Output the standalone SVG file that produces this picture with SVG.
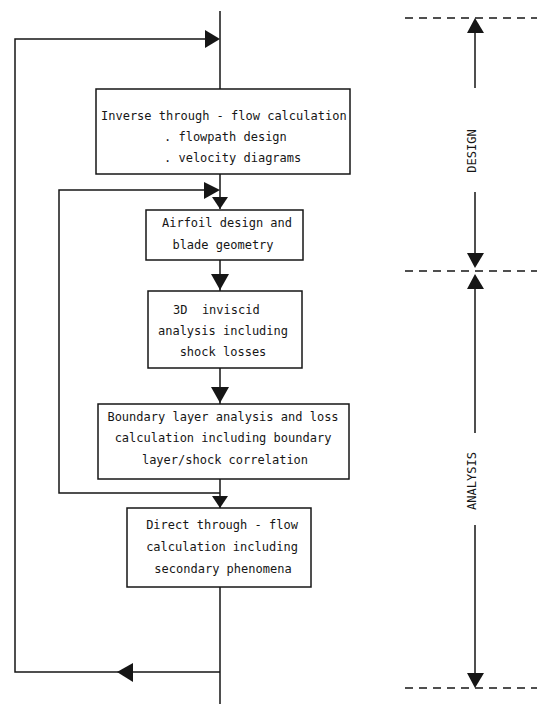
<svg xmlns="http://www.w3.org/2000/svg" width="537" height="704" viewBox="0 0 537 704">
<style>
  .ln { stroke: #161616; stroke-width: 1.5; fill: none; }
  .dash { stroke: #161616; stroke-width: 1.4; fill: none; stroke-dasharray: 8 6; }
  .box { stroke: #161616; stroke-width: 1.5; fill: #ffffff; }
  .ah { fill: #161616; stroke: none; }
  .t { font-family: "DejaVu Sans Mono", "Liberation Mono", monospace; font-size: 12px; fill: #161616; }
  .c { text-anchor: middle; }
</style>
<rect width="537" height="704" fill="#ffffff"/>

<g id="connectors">
  <!-- main flow line -->
  <path class="ln" d="M220,11 V89 M220,174 V209 M220,259 V291 M220,368 V404 M220,479 V508 M220,587 V704"/>
  <!-- outer loop -->
  <path class="ln" d="M220,672 H15 V39 H210"/>
  <polygon class="ah" points="133,663 117,672 133,682"/>
  <polygon class="ah" points="205,30 220,39 205,48"/>
  <!-- inner loop -->
  <path class="ln" d="M220,493 H59 V190 H210"/>
  <polygon class="ah" points="204,182 220,190 204,199"/>
  <!-- down arrows -->
  <polygon class="ah" points="212,197 228,197 220,209"/>
  <polygon class="ah" points="211,274 229,274 220,290"/>
  <polygon class="ah" points="211,387 229,387 220,403"/>
  <polygon class="ah" points="212,496 228,496 220,508"/>
  <!-- right scale -->
  <path class="dash" d="M405,18 H537 M405,271 H537 M405,688 H537"/>
  <path class="ln" d="M475,32 V88 M475,192 V254 M475,288 V433 M475,525 V674"/>
  <polygon class="ah" points="467,33 475,18 484,33"/>
  <polygon class="ah" points="467,253 484,253 475,268"/>
  <polygon class="ah" points="467,289 475,274 484,289"/>
  <polygon class="ah" points="467,673 484,673 475,688"/>
</g>

<g id="node-inverse">
  <rect class="box" x="96" y="89" width="254" height="85"/>
  <text class="t" x="101" y="120">Inverse through - flow calculation</text>
  <text class="t" x="164" y="141">. flowpath design</text>
  <text class="t" x="164" y="162">. velocity diagrams</text>
</g>

<g id="node-airfoil">
  <rect class="box" x="146" y="210" width="157" height="50"/>
  <text class="t c" x="227" y="227">Airfoil design and</text>
  <text class="t c" x="223" y="249">blade geometry</text>
</g>

<g id="node-inviscid">
  <rect class="box" x="148" y="291" width="154" height="77"/>
  <text class="t" x="173" y="314" xml:space="preserve">3D  inviscid</text>
  <text class="t c" x="223" y="335">analysis including</text>
  <text class="t c" x="223" y="356">shock losses</text>
</g>

<g id="node-boundary">
  <rect class="box" x="98" y="404" width="251" height="75"/>
  <text class="t c" x="223" y="421">Boundary layer analysis and loss</text>
  <text class="t c" x="223" y="442">calculation including boundary</text>
  <text class="t c" x="225" y="464">layer/shock correlation</text>
</g>

<g id="node-direct">
  <rect class="box" x="127" y="508" width="184" height="79"/>
  <text class="t c" x="222" y="529">Direct through - flow</text>
  <text class="t c" x="222" y="551">calculation including</text>
  <text class="t c" x="223" y="573">secondary phenomena</text>
</g>

<g id="label-design">
  <text class="t c" transform="translate(476,151) rotate(-90)">DESIGN</text>
</g>
<g id="label-analysis">
  <text class="t c" transform="translate(476,481) rotate(-90)">ANALYSIS</text>
</g>
</svg>
